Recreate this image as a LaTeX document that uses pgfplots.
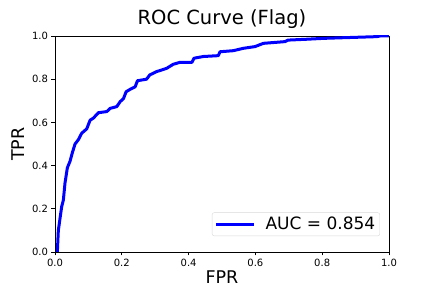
\documentclass[border=0pt]{standalone}
\usepackage{fontspec}
\setmainfont{DejaVu Sans}
\usepackage{pgfplots}
\pgfplotsset{compat=1.18}
\begin{document}
\begin{tikzpicture}
\path[use as bounding box] (0,0) rectangle (432pt,288pt);
\begin{axis}[
  at={(55pt,36pt)}, anchor=south west,
  scale only axis, width=334pt, height=216pt,
  xmin=0, xmax=1, ymin=0, ymax=1,
  xtick={0,0.2,...,1.0}, ytick={0,0.2,...,1.0},
  tick align=outside, major tick length=3.5pt,
  tick style={black, line width=0.8pt},
  xtick pos=bottom, ytick pos=left,
  axis line style={line width=0.8pt},
  /pgf/number format/assume math mode=true,
  /pgf/number format/.cd, fixed, fixed zerofill, precision=1, /pgfplots/.cd,
  tick label style={font=\fontsize{10}{12}\selectfont},
  title={ROC Curve (Flag)},
  title style={font=\fontsize{19.5}{23}\selectfont, at={(0.5,1)}, anchor=base, yshift=5pt},
  xlabel={FPR}, ylabel={TPR},
  label style={font=\fontsize{17.5}{21}\selectfont},
  xlabel style={at={(0.5,0)}, anchor=base, yshift=-32pt},
  ylabel style={at={(0,0.5)}, anchor=base, xshift=0pt, yshift=30pt},
  legend style={at={(0.973,0.074)}, anchor=south east, draw=black!15, rounded corners=2pt,
    font=\fontsize{17}{20}\selectfont, inner sep=2.5pt},
  legend cell align=left,
  legend image code/.code={\draw[#1] (0pt,0pt) -- (38pt,0pt); \path (46pt,0pt);},
]
\addplot[blue, line width=3pt, line join=round] coordinates {
(0.007,0) (0.01,0.10) (0.02,0.21) (0.025,0.24) (0.03,0.32) (0.037,0.39)
(0.045,0.42) (0.052,0.46) (0.06,0.50) (0.07,0.52) (0.08,0.55) (0.095,0.57)
(0.105,0.61) (0.115,0.62) (0.13,0.645) (0.155,0.65) (0.165,0.665) (0.185,0.673)
(0.195,0.696) (0.205,0.71) (0.213,0.742) (0.225,0.753) (0.24,0.765) (0.247,0.793)
(0.274,0.80) (0.284,0.82) (0.304,0.835) (0.334,0.85) (0.354,0.869) (0.374,0.878)
(0.41,0.878) (0.416,0.897) (0.444,0.905) (0.489,0.909) (0.494,0.927) (0.534,0.932)
(0.564,0.943) (0.599,0.951) (0.624,0.966) (0.689,0.974) (0.698,0.981) (0.754,0.985)
(0.803,0.989) (0.963,0.997) (0.973,1.0) (1.0,1.0)
};
\addlegendentry{AUC = 0.854}
\end{axis}
\end{tikzpicture}
\end{document}
